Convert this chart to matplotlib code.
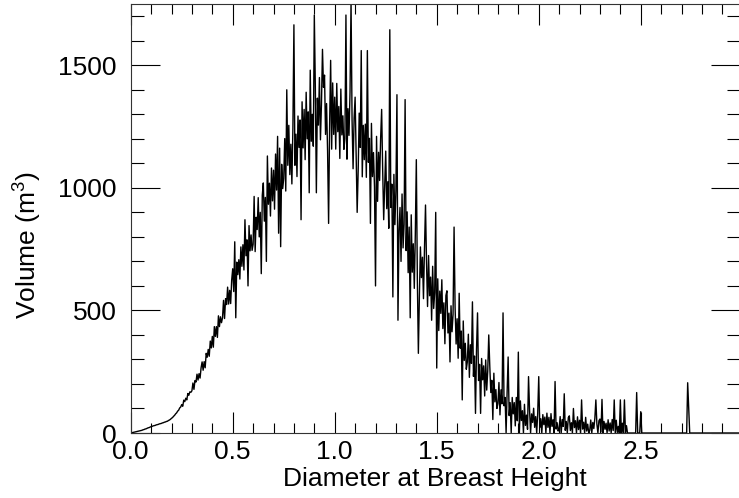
import numpy as np
import matplotlib
matplotlib.use("Agg")
import matplotlib.pyplot as plt
from matplotlib.ticker import MultipleLocator

# Diameter bins (start, step) and volume per bin
dbh_start = 0.0
dbh_step = 0.005
volume = [
    0, 1, 2, 3, 4, 5, 6, 7, 8, 9,                                # 0.00
    10, 11, 13, 14, 16, 17, 19, 21, 22, 24,                      # 0.05
    26, 27, 29, 30, 31, 33, 34, 35, 37, 38,                      # 0.10
    39, 41, 42, 44, 45, 47, 48, 51, 53, 56,                      # 0.15
    60, 63, 68, 72, 78, 82, 89, 93, 102, 106,                    # 0.20
    116, 109, 134, 128, 142, 135, 161, 154, 168, 166,            # 0.25
    172, 204, 178, 214, 208, 240, 216, 242, 224, 266,            # 0.30
    290, 256, 291, 266, 325, 309, 341, 313, 375, 347,            # 0.35
    394, 350, 434, 394, 434, 390, 478, 434, 474, 450,            # 0.40
    470, 541, 467, 548, 524, 595, 526, 582, 528, 624,            # 0.45
    670, 577, 780, 470, 697, 646, 707, 628, 759, 680,            # 0.50
    768, 665, 870, 723, 788, 600, 846, 743, 808, 745,            # 0.55
    770, 965, 740, 880, 830, 960, 800, 900, 650, 970,            # 0.60
    1020, 864, 961, 700, 1130, 933, 1019, 885, 1081, 947,        # 0.65
    1072, 913, 1138, 991, 1210, 815, 1162, 760, 1096, 997,       # 0.70
    1038, 1201, 987, 1400, 1092, 1255, 1054, 1178, 1016, 1244,   # 0.75
    1665, 1092, 1219, 1046, 1293, 1165, 1277, 870, 1351, 1163,   # 0.80
    1320, 1115, 1390, 1200, 1310, 980, 1480, 1190, 1300, 1170,   # 0.85
    1705, 1410, 980, 1366, 1256, 1450, 1196, 1342, 1565, 1410,   # 0.90
    1460, 1218, 1344, 1150, 855, 1258, 1520, 1158, 1428, 1218,   # 0.95
    1370, 1158, 1426, 1229, 1332, 1120, 1403, 1216, 1294, 1157,  # 1.00
    1200, 1705, 1117, 1323, 1214, 1390, 1760, 1277, 1078, 1285,  # 1.05
    1370, 1140, 900, 1070, 1305, 1165, 1560, 1045, 1255, 1115,   # 1.10
    1260, 1043, 1560, 1104, 1202, 855, 1263, 1046, 1144, 1002,   # 1.15
    600, 1210, 945, 1145, 1030, 1200, 1320, 1075, 870, 1015,     # 1.20
    1150, 915, 1025, 835, 1645, 920, 1015, 555, 1055, 850,       # 1.25
    990, 1380, 460, 825, 920, 700, 975, 755, 850, 1360,          # 1.30
    744, 902, 654, 840, 470, 890, 656, 772, 590, 808,            # 1.35
    1115, 627, 325, 559, 759, 634, 717, 548, 753, 930,           # 1.40
    692, 516, 724, 560, 636, 460, 680, 508, 572, 900,            # 1.45
    265, 629, 418, 579, 488, 625, 426, 531, 364, 561,            # 1.50
    580, 408, 489, 290, 519, 413, 483, 840, 513, 363,            # 1.55
    466, 305, 570, 346, 416, 135, 457, 296, 366, 260,            # 1.60
    290, 403, 227, 360, 284, 535, 231, 314, 80, 341,             # 1.65
    490, 214, 280, 80, 304, 217, 274, 151, 298, 175,             # 1.70
    253, 400, 274, 165, 215, 55, 244, 127, 177, 100,             # 1.75
    120, 206, 74, 176, 119, 490, 111, 145, 0, 167,               # 1.80
    310, 71, 124, 0, 145, 78, 124, 29, 145, 50,                  # 1.85
    330, 0, 131, 51, 91, 0, 117, 31, 73, 15,                     # 1.90
    230, 94, 0, 78, 43, 101, 23, 67, 0, 82,                      # 1.95
    230, 23, 58, 0, 75, 34, 65, 0, 81, 23,                       # 2.00
    64, 0, 79, 27, 54, 0, 210, 16, 42, 8,                        # 2.05
    19, 67, 0, 55, 27, 160, 11, 47, 0, 63,                       # 2.10
    70, 10, 42, 0, 100, 22, 50, 0, 66, 14,                       # 2.15
    52, 0, 135, 16, 44, 0, 64, 8, 36, 0,                         # 2.20
    11, 53, 0, 43, 18, 60, 135, 36, 0, 50,                       # 2.25
    57, 4, 137, 0, 47, 15, 40, 0, 54, 8,                         # 2.30
    41, 0, 55, 10, 135, 0, 52, 2, 27, 0,                         # 2.35
    135, 0, 40, 0, 135, 0, 30, 0, 0, 0,                          # 2.40
    0, 0, 0, 0, 0, 0, 165, 0, 0, 0,                              # 2.45
    87, 0, 0, 0, 0, 0, 0, 0, 0, 0,                               # 2.50
    0, 0, 0, 0, 0, 0, 0, 0, 0, 0,                                # 2.55
    0, 0, 0, 0, 0, 0, 0, 0, 0, 0,                                # 2.60
    0, 0, 0, 0, 0, 0, 0, 0, 0, 0,                                # 2.65
    0, 0, 0, 0, 0, 0, 205, 100, 0, 0,                            # 2.70
    0, 0, 0, 0, 0, 0, 0, 0, 0, 0,                                # 2.75
    0, 0, 0, 0, 0, 0, 0, 0, 0, 0,                                # 2.80
    0, 0, 0, 0, 0, 0, 0, 0, 0, 0,                                # 2.85
    0, 0, 0, 0, 0, 0, 0, 0, 0, 0,                                # 2.90
    0, 0, 0, 0, 0, 0, 0, 0, 0, 0,                                # 2.95
]
x_label = "Diameter at Breast Height"
y_label = "Volume (m$^3$)"
x_limits = (0.0, 2.985)
y_limits = (0, 1750)

dbh = dbh_start + dbh_step * np.arange(len(volume))

plt.rcParams['font.family'] = ['Liberation Sans', 'DejaVu Sans']
plt.rcParams['mathtext.fontset'] = 'custom'
plt.rcParams['mathtext.rm'] = 'Liberation Sans'

W, H = 739, 498
fig = plt.figure(figsize=(W / 100, H / 100), dpi=100)
ax = fig.add_axes([130.7 / W, 65 / H, 609 / W, 429 / H])

ax.plot(dbh, volume, color='black', lw=1.0)

ax.set_xlim(*x_limits)
ax.set_ylim(*y_limits)
ax.xaxis.set_major_locator(MultipleLocator(0.5))
ax.xaxis.set_minor_locator(MultipleLocator(0.1))
ax.yaxis.set_major_locator(MultipleLocator(500))
ax.yaxis.set_minor_locator(MultipleLocator(100))
ax.xaxis.set_major_formatter(plt.FuncFormatter(lambda v, p: f"{v:.1f}"))
ax.yaxis.set_major_formatter(plt.FuncFormatter(lambda v, p: f"{v:.0f}"))

ax.tick_params(axis='both', which='both', direction='in', top=True, right=True,
               colors='black', width=0.8, labelsize=19)
ax.tick_params(axis='x', which='major', length=15, pad=5)
ax.tick_params(axis='x', which='minor', length=7.5)
ax.tick_params(axis='y', which='major', length=21, pad=10)
ax.tick_params(axis='y', which='minor', length=9.5)
for s in ax.spines.values():
    s.set_linewidth(0.8)
    s.set_color('#333333')

ax.set_xlabel(x_label, fontsize=19, labelpad=2)
fig.text(27 / W, 1 - 245 / H, y_label, rotation=90, ha='center', va='center',
         fontsize=19)

fig.savefig('out.png', dpi=100)
